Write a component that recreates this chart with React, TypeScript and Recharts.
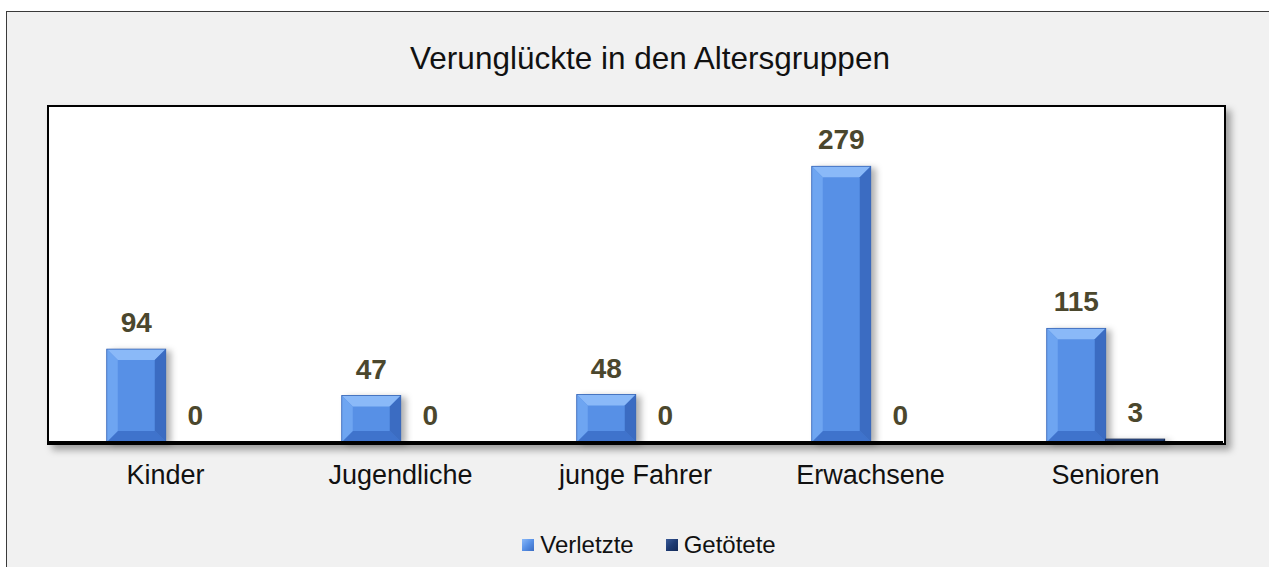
import React from "react"
import { Bar, BarChart, LabelList, Legend, XAxis, YAxis } from "recharts"

const categories = ["Kinder", "Jugendliche", "junge Fahrer", "Erwachsene", "Senioren"]
const verletzte = [94, 47, 48, 279, 115]
const getoetete = [0, 0, 0, 0, 3]
const yDomain = [0, 340]

const data = categories.map((name, i) => ({
  name,
  Verletzte: verletzte[i],
  Getötete: getoetete[i],
}))

const W = 1269
const H = 567
const FONT = "'Liberation Sans', Arial, Helvetica, sans-serif"

const palettes: Record<string, { face: string; top: string; left: string; right: string; bottom: string; edge: string }> = {
  Verletzte: {
    face: "#5790e6",
    top: "#8ab9f8",
    left: "#6ea5f1",
    right: "#3b6cc2",
    bottom: "#3f73cc",
    edge: "#3463b4",
  },
  Getötete: {
    face: "#1d3a72",
    top: "#3a5b98",
    left: "#2b4a86",
    right: "#132a58",
    bottom: "#17305f",
    edge: "#10244c",
  },
}

function bevelShape(key: string) {
  return (props: any) => {
    const { x, y, width, height } = props
    if (!height || height <= 0) return <g />
    const p = palettes[key]
    const b = Math.min(11, height / 2, width / 2)
    const x2 = x + width
    const y2 = y + height
    return (
      <g style={{ filter: "drop-shadow(5px 2px 3px rgba(0,0,0,0.3))" }}>
        <rect x={x} y={y} width={width} height={height} fill={p.face} />
        <polygon points={`${x},${y} ${x2},${y} ${x2 - b},${y + b} ${x + b},${y + b}`} fill={p.top} />
        <polygon points={`${x},${y2} ${x2},${y2} ${x2 - b},${y2 - b} ${x + b},${y2 - b}`} fill={p.bottom} />
        <polygon points={`${x},${y} ${x + b},${y + b} ${x + b},${y2 - b} ${x},${y2}`} fill={p.left} />
        <polygon points={`${x2},${y} ${x2 - b},${y + b} ${x2 - b},${y2 - b} ${x2},${y2}`} fill={p.right} />
        <rect x={x} y={y} width={width} height={height} fill="none" stroke={p.edge} strokeWidth={0.8} />
      </g>
    )
  }
}

function LegendContent() {
  const items = [
    { label: "Verletzte", color: palettes.Verletzte },
    { label: "Getötete", color: palettes.Getötete },
  ]
  return (
    <div
      style={{
        display: "flex",
        justifyContent: "center",
        alignItems: "center",
        height: 30,
        paddingLeft: 27,
        fontFamily: FONT,
        fontSize: 24,
        color: "#111",
      }}
    >
      {items.map((it, i) => (
        <span key={it.label} style={{ display: "flex", alignItems: "center", marginLeft: i ? 32 : 0 }}>
          <span
            style={{
              display: "inline-block",
              width: 12,
              height: 12,
              marginRight: 6,
              background: `linear-gradient(135deg, ${it.color.top}, ${it.color.face} 50%, ${it.color.right})`,
            }}
          />
          {it.label}
        </span>
      ))}
    </div>
  )
}

export default function App() {
  const plot = { left: 48, top: 106, right: 1223, bottom: 442 }
  return (
    <div style={{ position: "fixed", left: 0, top: 0, width: W, height: H, overflow: "hidden", background: "#fff" }}>
      <div
        style={{
          position: "absolute",
          left: 6,
          top: 11,
          width: 1300,
          height: 600,
          border: "1px solid #3a3a3a",
          background: "#f1f1f1",
        }}
      />
      <div
        style={{
          position: "absolute",
          left: plot.left - 1,
          top: plot.top - 1,
          width: plot.right - plot.left,
          height: plot.bottom - plot.top,
          border: "2px solid #000",
          background: "#fff",
          boxShadow: "5px 5px 7px rgba(0,0,0,0.35)",
        }}
      />
      <div
        style={{
          position: "absolute",
          left: 0,
          top: 40,
          width: 1300,
          textAlign: "center",
          fontFamily: FONT,
          fontSize: 31.5,
          color: "#111",
        }}
      >
        Verunglückte in den Altersgruppen
      </div>
      <div style={{ position: "absolute", left: 0, top: 0 }}>
        <BarChart
          width={W}
          height={H}
          data={data}
          margin={{ top: plot.top, left: plot.left, right: W - plot.right, bottom: 7 }}
          barCategoryGap="25%"
          barGap={0}
        >
          <XAxis
            dataKey="name"
            height={88}
            axisLine={{ stroke: "#000", strokeWidth: 2 }}
            tickLine={false}
            tickMargin={17}
            tick={{ fontFamily: FONT, fontSize: 27, fill: "#111" }}
            interval={0}
          />
          <YAxis hide domain={yDomain} />
          <Legend verticalAlign="bottom" height={30} content={<LegendContent />} />
          <Bar dataKey="Verletzte" isAnimationActive={false} shape={bevelShape("Verletzte")}>
            <LabelList
              dataKey="Verletzte"
              position="top"
              offset={17}
              style={{ fontFamily: FONT, fontSize: 28, fontWeight: "bold", fill: "#4b472d" }}
            />
          </Bar>
          <Bar dataKey="Getötete" isAnimationActive={false} shape={bevelShape("Getötete")}>
            <LabelList
              dataKey="Getötete"
              position="top"
              offset={17}
              style={{ fontFamily: FONT, fontSize: 28, fontWeight: "bold", fill: "#4b472d" }}
            />
          </Bar>
        </BarChart>
      </div>
    </div>
  )
}
